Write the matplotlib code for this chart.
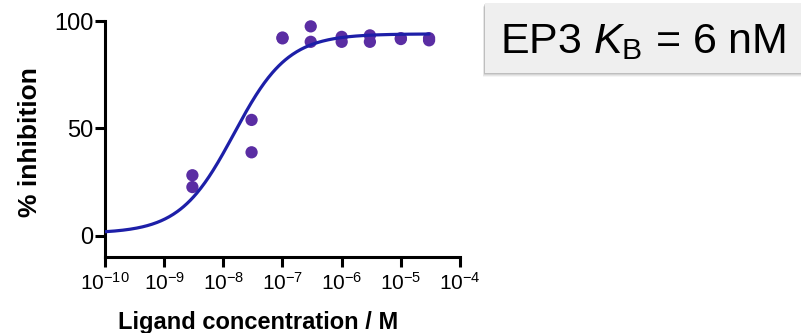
import numpy as np
import matplotlib
matplotlib.use("Agg")
import matplotlib.pyplot as plt
from matplotlib.patches import Rectangle

plt.rcParams['font.family'] = ['Liberation Sans', 'DejaVu Sans']
plt.rcParams['mathtext.fontset'] = 'custom'
plt.rcParams['mathtext.rm'] = 'Liberation Sans'
plt.rcParams['mathtext.it'] = 'Liberation Sans:italic'
plt.rcParams['mathtext.bf'] = 'Liberation Sans:bold'

# ---- data ----
conc = [3e-9, 3e-9, 3e-8, 3e-8, 1e-7, 1e-7, 3e-7, 3e-7,
        1e-6, 1e-6, 3e-6, 3e-6, 1e-5, 1e-5, 3e-5, 3e-5]
inhibition = [28.1, 22.6, 53.9, 38.8, 92.3, 91.9, 97.5, 90.3,
              92.6, 90.3, 93.3, 90.3, 92.0, 91.6, 92.0, 91.0]

# fitted sigmoid parameters
fit_bottom = 1.0
fit_top = 94.0
fit_logIC50 = -7.82
fit_hill = 0.95
fit_range = (1e-10, 3e-5)

xtick_vals = [1e-10, 1e-9, 1e-8, 1e-7, 1e-6, 1e-5, 1e-4]
xtick_labels = [r'$10^{-10}$', r'$10^{-9}$', r'$10^{-8}$', r'$10^{-7}$',
                r'$10^{-6}$', r'$10^{-5}$', r'$10^{-4}$']
ytick_vals = [0, 50, 100]
ytick_labels = ['0', '50', '100']

dot_color = '#5a2da3'
line_color = '#1d1fa8'

W, H = 801, 333
fig = plt.figure(figsize=(W / 100, H / 100), dpi=100)
ax = fig.add_axes([105 / W, 1 - 257 / H, (460 - 105) / W, (257 - 21) / H])

xs = np.logspace(np.log10(fit_range[0]), np.log10(fit_range[1]), 400)
ys = fit_bottom + (fit_top - fit_bottom) / (1 + 10 ** ((fit_logIC50 - np.log10(xs)) * fit_hill))
ax.plot(xs, ys, color=line_color, lw=2.3, zorder=3, solid_capstyle='round')
ax.scatter(conc, inhibition, s=78, color=dot_color, edgecolors='none', zorder=2, clip_on=False)

ax.set_xscale('log')
ax.set_xlim(1e-10, 1e-4)
ax.set_ylim(-10, 100)
ax.set_xticks(xtick_vals)
ax.set_xticklabels(xtick_labels)
ax.set_yticks(ytick_vals)
ax.set_yticklabels(ytick_labels)
ax.minorticks_off()

for s in ['top', 'right']:
    ax.spines[s].set_visible(False)
for s in ['left', 'bottom']:
    ax.spines[s].set_linewidth(2.2)
ax.tick_params(axis='both', width=2.2, length=7.5, color='black')
ax.tick_params(axis='x', labelsize=15, pad=3)
ax.tick_params(axis='y', labelsize=17, pad=1)

ax.set_xlabel('Ligand concentration / M', fontsize=17, fontweight='bold')
ax.set_ylabel('% inhibition', fontsize=19, fontweight='bold')
ax.xaxis.set_label_coords((258 - 105) / 355, -(322 - 257) / 236)
ax.xaxis.label.set_va('center')
ax.yaxis.set_label_coords((30 - 105) / 355, (257 - 142) / 236)
ax.yaxis.label.set_va('center')

# box with shadow
bx0, by_top, by_bot = 485, 3, 73
for i, a in enumerate([0.10, 0.08, 0.06, 0.04]):
    off = 1 + i
    fig.patches.append(Rectangle(((bx0 - off * 0.6) / W, 1 - (by_bot + off) / H),
                                 (W - bx0 + 10) / W, (by_bot - by_top) / H,
                                 transform=fig.transFigure, facecolor='black',
                                 edgecolor='none', alpha=a, zorder=0))
fig.patches.append(Rectangle((bx0 / W, 1 - by_bot / H), (W - bx0 + 10) / W,
                             (by_bot - by_top) / H, transform=fig.transFigure,
                             facecolor='#efefef', edgecolor='none', zorder=1))
fig.text(500 / W, 1 - 53.3 / H, r'EP3 $K_\mathrm{B}$ = 6 nM', fontsize=31,
         va='baseline', ha='left', color='black', zorder=5)

fig.savefig('out.png', dpi=100)
